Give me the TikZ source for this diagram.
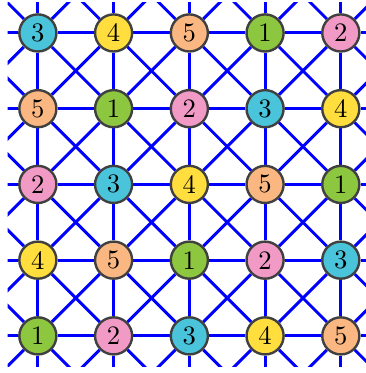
\documentclass[tikz,border=0pt]{standalone}
\usepackage{xcolor}
\usetikzlibrary{backgrounds}
\definecolor{c1}{RGB}{141,198,63}
\definecolor{c2}{RGB}{242,154,198}
\definecolor{c3}{RGB}{73,196,218}
\definecolor{c4}{RGB}{255,222,62}
\definecolor{c5}{RGB}{250,183,130}
\tikzset{
  cell/.style={circle, draw=black!75, line width=0.9pt,
               minimum size=0.49cm, inner sep=0pt},
  link/.style={blue, line width=1.1pt}
}

\begin{document}
\begin{tikzpicture}
  \useasboundingbox (-0.5,-0.49) rectangle (4.33,4.435);
  % ends of the lines, one step outside the board
  \foreach \i in {-1,...,5} {
    \foreach \j in {-1,...,5} {
      \coordinate (g-\i-\j) at (\i,\j);
    }
  }
  % numbered cells, bottom row first
  \foreach \row [count=\j from 0] in {{1,2,3,4,5},{4,5,1,2,3},{2,3,4,5,1},{5,1,2,3,4},{3,4,5,1,2}} {
    \foreach \v [count=\i from 0] in \row {
      \node[cell, fill=c\v] (g-\i-\j) at (\i,\j) {\v};
    }
  }
  % lines behind the cells
  \begin{scope}[on background layer]
    \clip (-0.4,-0.4) rectangle (4.4,4.4);
    \foreach \i in {-1,...,4} {
      \foreach \j in {-1,...,4} {
        \pgfmathtruncatemacro{\k}{\i+1}
        \pgfmathtruncatemacro{\m}{\j+1}
        \draw[link] (g-\i-\j) -- (g-\k-\j);
        \draw[link] (g-\i-\j) -- (g-\i-\m);
        \draw[link] (g-\i-\j) -- (g-\k-\m);
        \draw[link] (g-\k-\j) -- (g-\i-\m);
      }
    }
  \end{scope}
\end{tikzpicture}
\end{document}
